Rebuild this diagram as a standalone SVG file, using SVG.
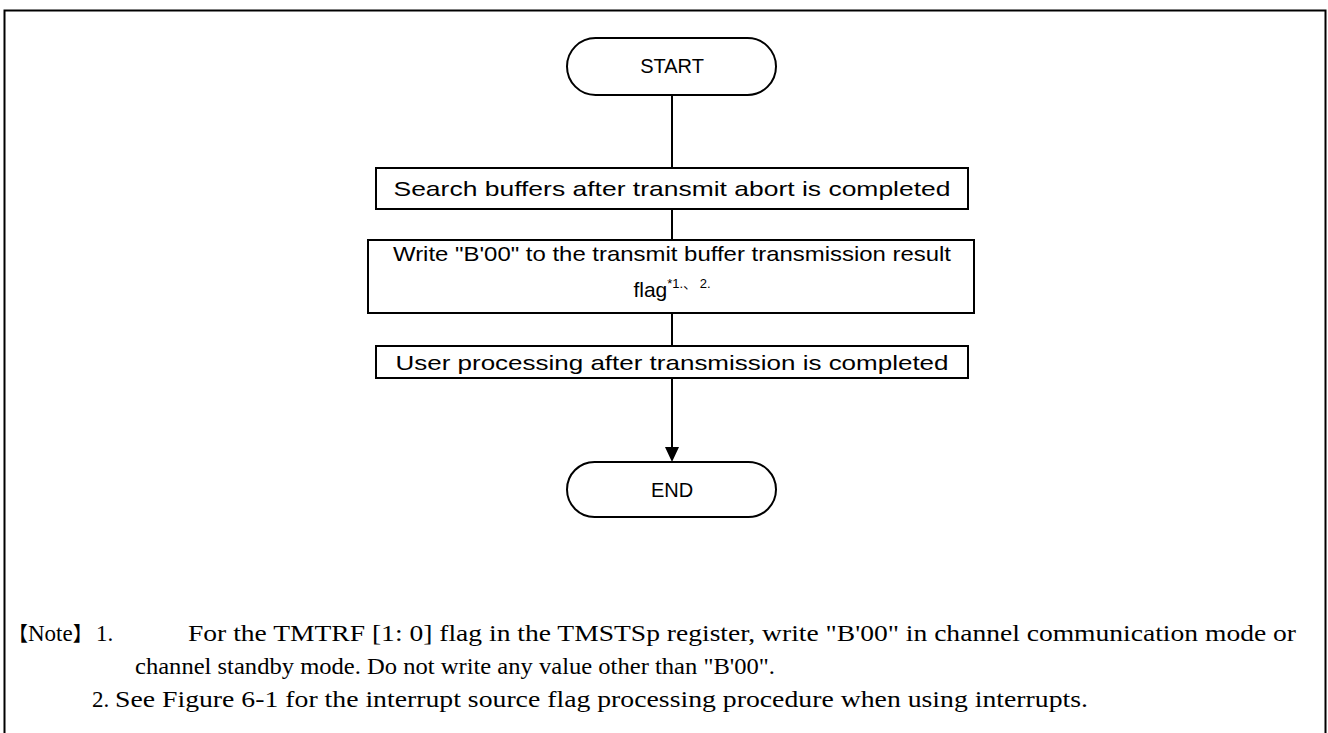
<svg xmlns="http://www.w3.org/2000/svg" width="1328" height="733" viewBox="0 0 1328 733">
<defs>
<style>
.box{fill:#fff;stroke:#000;stroke-width:2}
.lbl{font-family:"Liberation Sans","Noto Sans CJK JP",sans-serif;font-size:21px;fill:#000;text-anchor:middle}
.term{font-family:"Liberation Sans",sans-serif;font-size:20px;fill:#000;text-anchor:middle}
.conn{stroke:#000;stroke-width:2;fill:none}
.note{font-family:"Liberation Serif","Noto Sans CJK JP",serif;font-size:23px;fill:#000}
.br{font-family:"Noto Sans CJK JP",sans-serif;font-size:20px}
</style>
</defs>
<rect width="1328" height="733" fill="#fff"/>
<path d="M4.5,740 V10.5 H1325.5 V740" fill="none" stroke="#000" stroke-width="2"/>
<g id="connectors">
<line class="conn" x1="672" y1="95" x2="672" y2="168"/>
<line class="conn" x1="672" y1="209" x2="672" y2="240"/>
<line class="conn" x1="672" y1="313" x2="672" y2="346"/>
<path class="conn" d="M672,378 V448"/>
<path d="M665,447 L679,447 L672,462 Z" fill="#000"/>
</g>
<g id="start">
<rect class="box" x="567" y="38" width="209" height="57" rx="28.5"/>
<text class="term" x="672" y="73">START</text>
</g>
<g id="search">
<rect class="box" x="376" y="168" width="592" height="41"/>
<text class="lbl" x="672" y="196" textLength="557" lengthAdjust="spacingAndGlyphs">Search buffers after transmit abort is completed</text>
</g>
<g id="write">
<rect class="box" x="368" y="240" width="606" height="73"/>
<text class="lbl" x="672" y="261" textLength="558" lengthAdjust="spacingAndGlyphs">Write "B'00" to the transmit buffer transmission result</text>
<text class="lbl" x="672" y="297">flag<tspan font-size="13" dy="-9">*1.、 2.</tspan></text>
</g>
<g id="user">
<rect class="box" x="376" y="346" width="592" height="32"/>
<text class="lbl" x="672" y="370" textLength="553" lengthAdjust="spacingAndGlyphs">User processing after transmission is completed</text>
</g>
<g id="end">
<rect class="box" x="567" y="462" width="209" height="55" rx="27.5"/>
<text class="term" x="672" y="497">END</text>
</g>
<g id="notes">
<text class="note" x="8" y="641"><tspan class="br">【</tspan>Note<tspan class="br">】</tspan></text>
<text class="note" x="96" y="641">1.</text>
<text class="note" x="188" y="641" textLength="1108" lengthAdjust="spacingAndGlyphs">For the TMTRF [1: 0] flag in the TMSTSp register, write "B'00" in channel communication mode or</text>
<text class="note" x="135" y="674" textLength="640" lengthAdjust="spacingAndGlyphs">channel standby mode. Do not write any value other than "B'00".</text>
<text class="note" x="92" y="707">2.</text>
<text class="note" x="115" y="707" textLength="973" lengthAdjust="spacingAndGlyphs">See Figure 6-1 for the interrupt source flag processing procedure when using interrupts.</text>
</g>
</svg>
